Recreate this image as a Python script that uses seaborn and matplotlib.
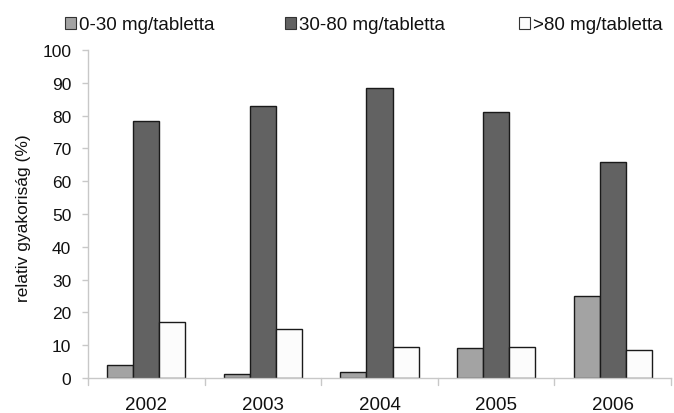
import numpy as np
import pandas as pd
import matplotlib
matplotlib.use("Agg")
import matplotlib.pyplot as plt
import seaborn as sns
from matplotlib.patches import Patch

years = ["2002", "2003", "2004", "2005", "2006"]
low_dose = [4.0, 1.3, 1.8, 9.0, 25.0]
mid_dose = [78.5, 83.0, 88.5, 81.0, 66.0]
high_dose = [17.0, 15.0, 9.5, 9.5, 8.5]
series_names = ["0-30 mg/tabletta", "30-80 mg/tabletta", ">80 mg/tabletta"]
y_ticks = list(range(0, 101, 10))

df = pd.DataFrame({
    "year": years * 3,
    "value": low_dose + mid_dose + high_dose,
    "dose": [series_names[0]] * 5 + [series_names[1]] * 5 + [series_names[2]] * 5,
})

colors = ["#a3a3a3", "#626262", "#fcfcfc"]

sns.set_style("white")
plt.rcParams["font.family"] = ["Liberation Sans", "DejaVu Sans"]

W, H = 674, 414
AX_LEFT, AX_BOTTOM, AX_W, AX_H = 88, 379, 583, 328
fig = plt.figure(figsize=(W / 100, H / 100), dpi=100)
ax = fig.add_axes([AX_LEFT / W, 1 - AX_BOTTOM / H, AX_W / W, AX_H / H])

sns.barplot(data=df, x="year", y="value", hue="dose", palette=colors,
            width=0.67, gap=0, edgecolor="#1a1a1a", linewidth=1.0,
            legend=False, ax=ax)

ax.set_ylim(0, 100)
ax.set_xlim(-0.5, 4.5)
ax.set_yticks(y_ticks)
ax.set_yticklabels([str(t) for t in y_ticks], fontsize=12.5, color="#111111")
ax.set_xlabel("")
ax.set_ylabel("relativ gyakoriság (%)", fontsize=12.5, color="#111111")
ax.yaxis.set_label_coords((31 - AX_LEFT) / AX_W, 0.49)
ax.tick_params(axis="x", labelsize=13.5, labelcolor="#111111", length=0, pad=13)
ax.tick_params(axis="y", length=4, color="#c8c8c8", width=1, pad=8, left=True)

# category boundary ticks on the x axis
for b in np.arange(-0.5, 5.0, 1.0):
    ax.plot([b, b], [0, -2.2], color="#c8c8c8", lw=1, clip_on=False)

for s in ["top", "right"]:
    ax.spines[s].set_visible(False)
for s in ["left", "bottom"]:
    ax.spines[s].set_color("#c8c8c8")
    ax.spines[s].set_linewidth(1)

# legend entries spread along the top edge
legend_x = [65, 285, 519]
for name, c, x in zip(series_names, colors, legend_x):
    h = Patch(facecolor=c, edgecolor="#333333", linewidth=0.8)
    fig.legend([h], [name], loc="center left", bbox_to_anchor=(x / W, 1 - 26 / H),
               frameon=False, fontsize=13.5, handlelength=0.6, handleheight=0.6,
               handletextpad=0.15, borderaxespad=0, borderpad=0,
               labelcolor="#111111")

fig.savefig("out.png", dpi=100)
